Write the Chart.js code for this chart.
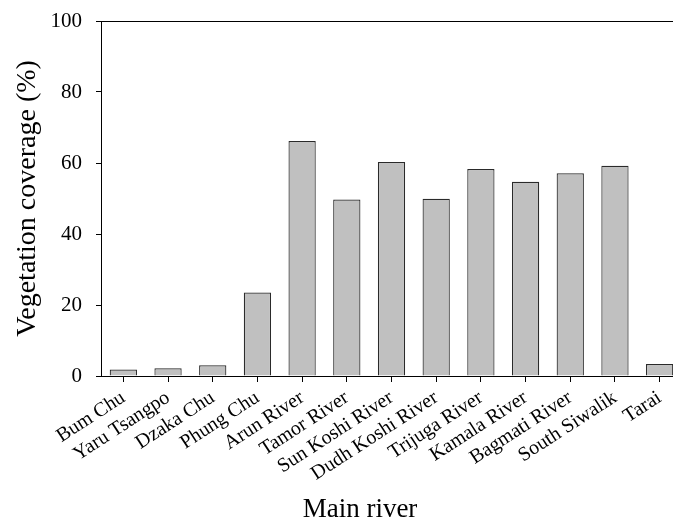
<!DOCTYPE html>
<html>
<head>
<meta charset="utf-8">
<script src="https://cdn.jsdelivr.net/npm/chart.js@4/dist/chart.umd.min.js"></script>
<style>
  html, body { margin: 0; padding: 0; background: #fff; overflow: hidden; }
  #wrap { width: 673px; height: 522px; overflow: hidden; position: relative; }
  canvas { display: block; }
</style>
</head>
<body>
<div id="wrap"><canvas id="chart" width="690" height="522"></canvas></div>
<script>
// Vegetation coverage by main river basin
const rivers = [
  'Bum Chu', 'Yaru Tsangpo', 'Dzaka Chu', 'Phung Chu', 'Arun River',
  'Tamor River', 'Sun Koshi River', 'Dudh Koshi River', 'Trijuga River',
  'Kamala River', 'Bagmati River', 'South Siwalik', 'Tarai'
];
const coverage = [1.8, 2.2, 3.0, 23.5, 66.2, 49.7, 60.3, 49.9, 58.3, 54.7, 57.1, 59.2, 3.4];
const yTicks = [0, 20, 40, 60, 80, 100];

const SERIF = '"Liberation Serif", "Times New Roman", serif';

// Bottom axis title, drawn beneath the rotated category labels
const xTitle = {
  id: 'xTitle',
  afterDraw(chart) {
    const ctx = chart.ctx;
    ctx.save();
    ctx.font = '27px ' + SERIF;
    ctx.fillStyle = '#000';
    ctx.textAlign = 'center';
    ctx.textBaseline = 'alphabetic';
    ctx.fillText('Main river', 360, 517);
    ctx.restore();
  }
};

new Chart(document.getElementById('chart'), {
  type: 'bar',
  data: {
    labels: rivers,
    datasets: [{
      data: coverage,
      backgroundColor: '#c0c0c0',
      borderColor: '#2a2a2a',
      borderWidth: 1.2,
      barPercentage: 0.61,
      categoryPercentage: 1.0
    }]
  },
  options: {
    responsive: false,
    devicePixelRatio: 1,
    animation: false,
    layout: { padding: { left: 0, right: 8, top: 0, bottom: 0 } },
    plugins: { legend: { display: false }, tooltip: { enabled: false } },
    scales: {
      x: {
        position: 'bottom',
        ticks: {
          autoSkip: false, minRotation: 33, maxRotation: 33,
          color: '#000', font: { family: SERIF, size: 20 }, padding: 4
        },
        grid: { offset: false, drawOnChartArea: false, drawTicks: true, tickLength: 6, color: '#000' },
        border: { display: true, color: '#000', width: 1 },
        afterFit(s) { s.height = 146; }
      },
      top: {
        type: 'linear', axis: 'x', position: 'top',
        ticks: { display: false },
        grid: { display: false, drawTicks: false },
        border: { display: true, color: '#000', width: 1 },
        afterFit(s) { s.height = 21; }
      },
      y: {
        position: 'left',
        min: 0, max: 100,
        afterBuildTicks(s) { s.ticks = yTicks.map(v => ({ value: v })); },
        ticks: { color: '#000', font: { family: SERIF, size: 21 }, padding: 14 },
        grid: { drawOnChartArea: false, drawTicks: true, tickLength: 5, color: '#000' },
        border: { display: true, color: '#000', width: 1 },
        title: {
          display: true, text: 'Vegetation coverage (%)', color: '#000',
          font: { family: SERIF, size: 28 }, padding: { top: 11, bottom: 0 }
        },
        afterFit(s) {
          s.width = 101;
          s.paddingTop = 0;
          s.paddingBottom = 0;
        }
      }
    }
  },
  plugins: [xTitle]
});
</script>
</body>
</html>
